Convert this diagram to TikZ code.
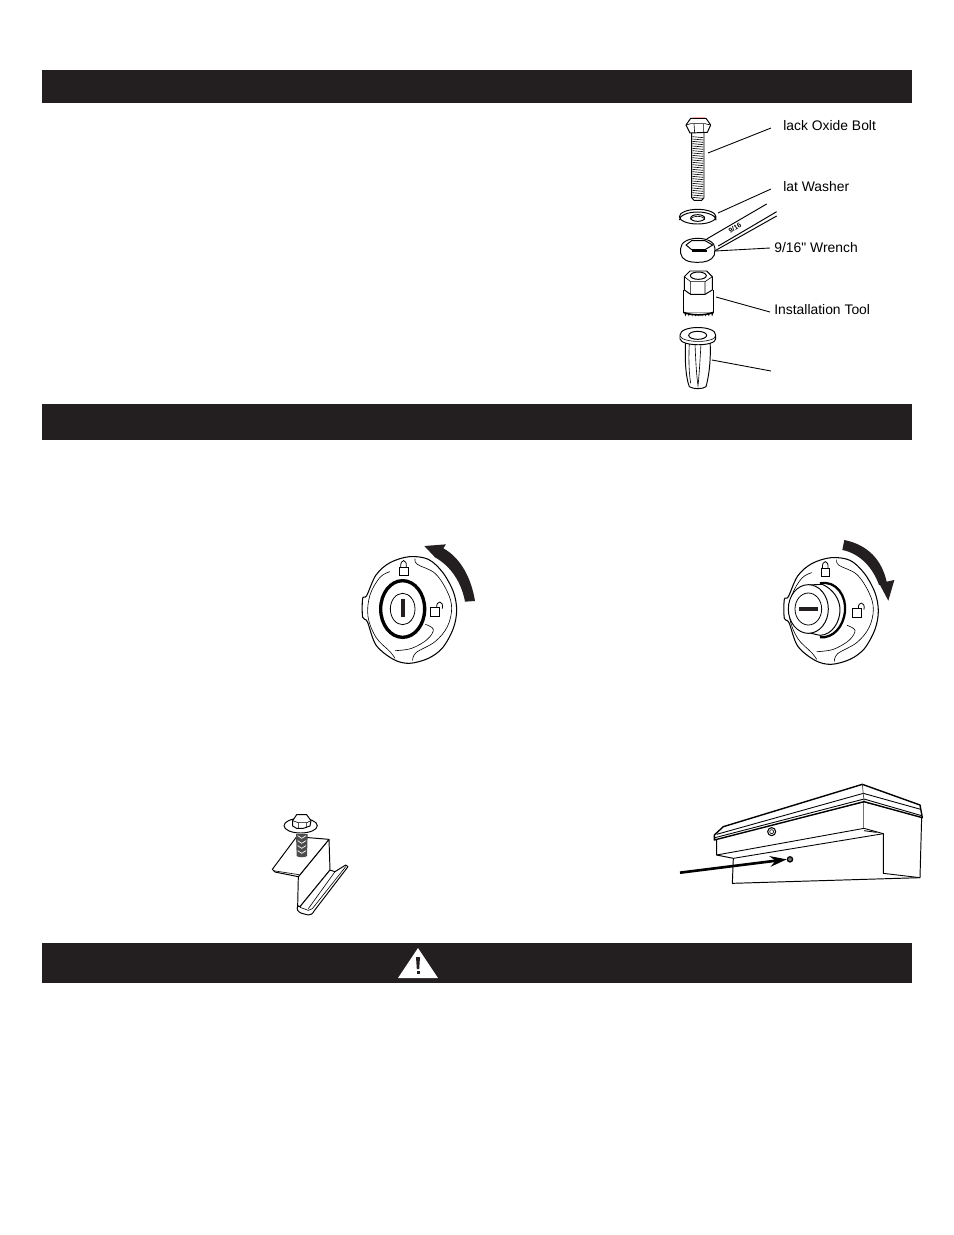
\documentclass[tikz,border=0pt]{standalone}
\usepackage{fontspec}
\setmainfont[Ligatures=TeXOff]{Liberation Sans}
\usetikzlibrary{arrows.meta}
\definecolor{barblack}{HTML}{231F20}
\tikzset{
  bar/.style={fill=barblack},
  part/.style={draw=black,line width=0.55pt,line join=round,fill=white},
  fine/.style={draw=black,line width=0.35pt},
  leader/.style={draw=black,line width=0.5pt},
  partlabel/.style={anchor=west,inner sep=0pt,font=\fontsize{7.9}{9}\selectfont},
  lockface/.pic={
    % rim
    \draw[part,line width=0.6pt] plot[smooth cycle,tension=0.55] coordinates {(68,205) (80,197) (108,135) (150,98) (208,80) (265,88) (308,127) (340,185) (350,240) (340,295) (308,353) (265,385) (208,400) (160,388) (108,345) (82,275) (68,262)};
    % inner contour
    \draw[fine] plot[smooth,tension=0.6] coordinates {(225,86) (232,103) (285,130) (322,185) (335,235) (322,290) (285,335) (228,368) (218,392)};
    \draw[fine] plot[smooth,tension=0.6] coordinates {(150,125) (120,142) (90,195) (84,260) (108,322) (150,365) (165,385)};
    \draw[fine] plot[smooth,tension=0.6] coordinates {(256,283) (280,298) (262,328) (215,355) (165,362)};
    % padlocks
    \draw[fine,line width=0.45pt] (178,112) rectangle (204,137);
    \draw[fine,line width=0.45pt] (182,112) .. controls (180,85) and (202,85) .. (199,112);
    \draw[fine,line width=0.45pt] (272,233) rectangle (299,260);
    \draw[fine,line width=0.45pt] (290,233) .. controls (288,210) and (312,210) .. (307,236);
  }
}
\begin{document}
\begin{tikzpicture}[x=0.02cm,y=-0.02cm]
  \useasboundingbox (0,0) rectangle (954,1235);
  % section bars
  \path[bar] (42,70) rectangle (912,103);
  \path[bar] (42,404) rectangle (912,440);
  \path[bar] (42,943) rectangle (912,983);
  % warning sign
  \fill[white] (418,948) -- (438,978) -- (398,978) -- cycle;
  \fill[barblack] (416,957) -- (420,957) -- (419.2,969) -- (416.8,969) -- cycle;
  \fill[barblack] (416.5,971) rectangle (419.5,974);

  % hardware stack
  \begin{scope}[shift={(650,105)},scale=1/3]
    % bolt
    \draw[part] (125,80) -- (125,278) -- (132,286) -- (155,286) -- (162,278) -- (162,80);
    \foreach \yy in {95,102,...,277} \draw[fine] (127,\yy) -- (160,\yy+3);
    \draw[part] (108,60) -- (122,40) -- (168,40) -- (182,60) -- (172,82) -- (120,84) -- cycle;
    \draw[fine] (108,60) -- (122,56) -- (165,56) -- (182,60) (132,56) -- (134,84) (160,56) -- (160,83);
    \draw[pink!90!red,line width=0.4pt] (128,38) -- (165,38);
    % washer
    \draw[part] (88,345) arc[start angle=180,end angle=360,x radius=55,y radius=24] -- (198,335) arc[start angle=0,end angle=360,x radius=55,y radius=22];
    \draw[part] (143,339) circle[x radius=21,y radius=10];
    \draw[fine] (122,344) arc[start angle=180,end angle=360,x radius=21,y radius=10];
    % wrench
    \draw[part] (170,402) -- (350,297) (205,423) -- (380,320) (190,440) -- (380,333);
    \draw[part] (92,430) .. controls (92,412) and (115,400) .. (143,400) .. controls (172,400) and (195,412) .. (195,430) -- (193,450) .. controls (185,468) and (165,472) .. (143,472) .. controls (115,472) and (95,465) .. (92,445) -- cycle;
    \draw[part] (108,420) -- (125,407) -- (165,407) -- (188,420) -- (165,434) -- (125,434) -- cycle;
    \draw[fine,line width=0.8pt] (125,434) -- (165,434) (125,438) -- (170,438);
    \node[rotate=30,font=\fontsize{3.9}{4}\bfseries\selectfont,inner sep=0pt] (wrenchsize) at (255,368) {9/16};
    % installation tool
    \draw[part] (100,555) -- (100,622) -- (190,622) -- (190,555);
    \foreach \xx in {102,112,...,182} \fill[black] (\xx,621) -- (\xx+9,621) -- (\xx+4.5,634) -- cycle;
    \draw[part,line width=0.9pt] (100,622) .. controls (125,632) and (165,632) .. (190,622);
    \draw[part] (103,515) -- (120,498) -- (170,498) -- (187,515) -- (187,555) -- (165,568) -- (122,568) -- (103,555) -- cycle;
    \draw[fine] (103,515) -- (122,530) -- (165,530) -- (187,515) (122,530) -- (122,568) (165,530) -- (165,568);
    \draw[part] (145,512) circle[x radius=24,y radius=11];
    % anchor
    \draw[part] (107,705) .. controls (103,780) and (110,825) .. (118,845) .. controls (130,853) and (158,853) .. (168,845) .. controls (175,820) and (184,770) .. (180,705) -- cycle;
    \draw[fine] (135,715) .. controls (137,770) and (140,815) .. (144,842) .. controls (147,815) and (150,770) .. (153,715);
    \draw[fine] (118,715) .. controls (115,770) and (118,810) .. (122,835);
    \draw[part] (90,690) -- (90,702) .. controls (95,725) and (195,725) .. (197,702) -- (197,690) .. controls (197,660) and (90,660) .. (90,690) -- cycle;
    \draw[part] (143,691) circle[x radius=27,y radius=12];
    \draw[fine] (90,692) .. controls (95,715) and (195,715) .. (197,692);
  \end{scope}

  % labels and leaders
  \node[partlabel] (boltlabel) at (783,126) {lack Oxide Bolt};
  \node[partlabel] (washerlabel) at (783,187) {lat Washer};
  \node[partlabel] (wrenchlabel) at (774,248) {9/16" Wrench};
  \node[partlabel] (toollabel) at (774,310) {Installation Tool};
  \coordinate (boltpt) at (708,153);
  \coordinate (boltend) at (771,128);
  \coordinate (washerpt) at (718,213);
  \coordinate (washerend) at (771,189);
  \coordinate (wrenchpt) at (715,251);
  \coordinate (wrenchend) at (770,248);
  \coordinate (toolpt) at (716,297);
  \coordinate (toolend) at (770,312);
  \coordinate (anchorpt) at (712,360);
  \coordinate (anchorend) at (771,371);
  \draw[leader] (boltpt) -- (boltend);
  \draw[leader] (washerpt) -- (washerend);
  \draw[leader] (wrenchpt) -- (wrenchend);
  \draw[leader] (toolpt) -- (toolend);
  \draw[leader] (anchorpt) -- (anchorend);

  % left lock
  \begin{scope}[shift={(340,530)},scale=1/3]
    \pic[transform shape] {lockface};
    \draw[black,line width=1.9pt] (188,237) circle[x radius=66,y radius=85];
    \draw[fine,line width=0.45pt] (188,237) circle[x radius=37,y radius=47];
    \fill[barblack] (182,207) rectangle (195,262);
    \fill[barblack] (253,48) -- (318,43) -- (310,55) .. controls (365,85) and (395,150) .. (405,213) -- (375,215) .. controls (365,160) and (335,110) .. (285,82) -- cycle;
  \end{scope}

  % right lock
  \begin{scope}[shift={(765,530)},scale=1/3]
    \begin{scope}[shift={(-10,3)}]
      \pic[transform shape] {lockface};
    \end{scope}
    % cylinder
    \draw[black,line width=1.3pt,fill=white] (165,160) .. controls (215,150) and (245,200) .. (240,245) .. controls (235,290) and (205,325) .. (165,322);
    \fill[white] (130,165) -- (172,164) .. controls (205,180) and (225,210) .. (225,240) .. controls (225,275) and (200,315) .. (165,318) -- (130,310) -- cycle;
    \draw[part] (130,165) -- (172,163) .. controls (205,178) and (225,208) .. (225,240) .. controls (225,275) and (202,315) .. (165,316) -- (130,308);
    \draw[part] (130,237) circle[x radius=60,y radius=73];
    \draw[fine,line width=0.45pt] (130,237) circle[x radius=40,y radius=48];
    \fill[barblack] (103,230) rectangle (158,243);
    \fill[barblack] (238,30) .. controls (310,45) and (350,90) .. (365,155) -- (388,150) -- (370,212) -- (345,165) -- (342,165) .. controls (325,115) and (285,70) .. (232,60) -- cycle;
  \end{scope}

  % bracket
  \begin{scope}[shift={(255,800)},scale=1/3]
    \draw[part] (222,118) -- (225,210) -- (135,320) -- (128,318) -- (130,230) -- cycle;
    \draw[part] (225,210) -- (240,215) -- (272,195) -- (279,200) -- (178,332) .. controls (172,342) and (168,345) .. (160,345) -- (140,340) .. controls (128,335) and (124,328) .. (128,318) -- (135,320) -- cycle;
    \draw[fine] (135,322) -- (160,331) -- (172,326) -- (272,200);
    \draw[fine] (240,215) -- (160,326);
    \draw[part] (125,110) -- (222,118) -- (130,230) -- (60,216) -- (52,208) -- cycle;
    \draw[fine] (55,212) -- (132,224);
    % bolt in bracket
    \fill[black!70] (123,102) -- (158,102) -- (156,168) .. controls (150,173) and (130,173) .. (125,168) -- cycle;
    \foreach \yy in {115,130,145,160} \draw[white,line width=0.4pt] (128,\yy-8) -- (140,\yy) -- (153,\yy-8);
    \draw[part] (137,77) circle[x radius=50,y radius=22];
    \draw[part] (113,62) -- (125,44) -- (155,44) -- (168,62) -- (165,78) -- (145,85) -- (125,85) -- (113,78) -- cycle;
    \draw[fine] (113,62) -- (130,68) -- (155,68) -- (168,62) (130,68) -- (130,85) (155,68) -- (155,82);
  \end{scope}

  % box
  \begin{scope}[shift={(670,775)},scale=1/3]
    \draw[part] (140,190) -- (140,240) -- (190,250) -- (187,325) -- (750,308) -- (755,125) -- (582,80) -- cycle;
    \draw[fine,line width=0.5pt] (140,240) -- (582,160) -- (640,176) -- (640,295) -- (750,308);
    \draw[fine,line width=0.5pt] (190,250) -- (640,176);
    \draw[fine,line width=0.5pt] (582,167) -- (620,172);
    \draw[black!55,line width=0.7pt] (580,80) -- (580,160);
    \draw[part,line width=0.8pt] (133,195) -- (133,180) -- (160,155) -- (577,28) -- (750,90) -- (757,128) -- (582,80) -- cycle;
    \draw[fine,line width=0.5pt] (140,178) -- (580,55) -- (752,103);
    \draw[fine,line width=0.5pt] (135,188) -- (582,72) -- (755,122);
    \draw[black!70,line width=0.4pt] (577,28) -- (582,78);
    \draw[part,line width=0.6pt] (305,170) circle[radius=12];
    \draw[fine] (305,170) circle[radius=6];
    \node[circle,draw=black,line width=0.7pt,fill=black!55,minimum size=3pt,inner sep=0pt] (boxscrew) at (360,253) {};
    \coordinate (boxarrowstart) at (30,293);
  \end{scope}
  \draw[black,line width=1.5pt,-{Stealth[length=9.5pt,width=6pt]}] (boxarrowstart) -- (boxscrew.west);
\end{tikzpicture}
\end{document}
